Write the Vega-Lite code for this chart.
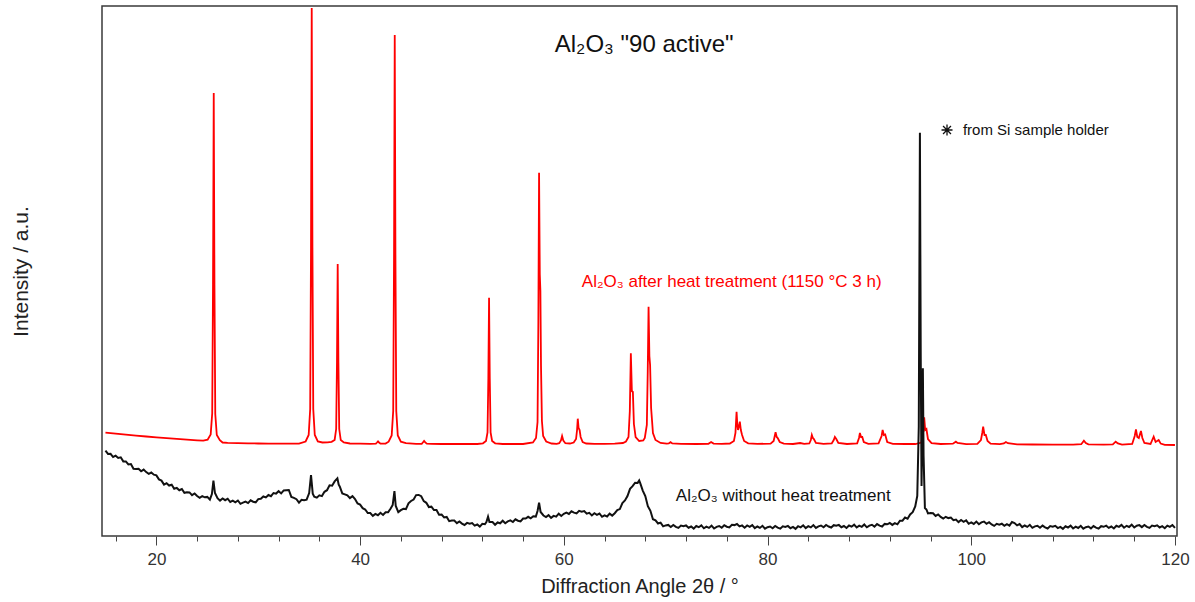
{
"$schema": "https://vega.github.io/schema/vega-lite/v6.json",
"width": 1075, "height": 530,
"autosize": {"type": "none"},
"padding": {"left": 102, "top": 6, "right": 18, "bottom": 66},
"config": {"font": "Liberation Sans", "view": {"stroke": "#3a3a3a", "strokeWidth": 1.5}},
"datasets": {
"red": [
{"x":15,"y":103.3},{"x":15.5,"y":102.8},{"x":16,"y":102.3},{"x":17,"y":101.3},{"x":18,"y":100.4},{"x":19,"y":99.5},{"x":20,"y":98.7},{"x":21,"y":97.9},{"x":22,"y":97.1},{"x":23,"y":96.4},{"x":24,"y":95.7},{"x":24.6,"y":95.3},{"x":25.03,"y":96.3},{"x":25.33,"y":101.6},{"x":25.48,"y":122.5},{"x":25.56,"y":251.7},{"x":25.63,"y":443},{"x":25.7,"y":251.5},{"x":25.78,"y":122},{"x":25.93,"y":101},{"x":26.23,"y":95.8},{"x":26.5,"y":93.5},{"x":27,"y":93.2},{"x":28,"y":92.9},{"x":29,"y":92.7},{"x":30,"y":92.5},{"x":31,"y":92.4},{"x":32,"y":92.3},{"x":33,"y":92.3},{"x":34,"y":92.3},{"x":34.65,"y":94.5},{"x":34.95,"y":101},{"x":35.1,"y":127},{"x":35.18,"y":288},{"x":35.25,"y":528},{"x":35.32,"y":288},{"x":35.4,"y":127},{"x":35.55,"y":101},{"x":35.85,"y":94.5},{"x":36.3,"y":93.5},{"x":36.8,"y":93.6},{"x":37.2,"y":94.2},{"x":37.5,"y":96.1},{"x":37.65,"y":107},{"x":37.73,"y":173.5},{"x":37.8,"y":272},{"x":37.87,"y":173.5},{"x":37.95,"y":107},{"x":38.1,"y":96},{"x":38.4,"y":93.5},{"x":39,"y":92.5},{"x":40,"y":92.3},{"x":41,"y":92.2},{"x":41.55,"y":92.3},{"x":41.66,"y":93.5},{"x":41.76,"y":94.7},{"x":41.86,"y":93.5},{"x":42,"y":92.3},{"x":42.5,"y":92.4},{"x":42.8,"y":94.3},{"x":43.1,"y":100.5},{"x":43.25,"y":125},{"x":43.33,"y":276},{"x":43.4,"y":501},{"x":43.47,"y":276},{"x":43.55,"y":125},{"x":43.7,"y":100.5},{"x":44,"y":94.3},{"x":44.5,"y":92.8},{"x":45.5,"y":92.2},{"x":46.05,"y":92.2},{"x":46.18,"y":93.8},{"x":46.28,"y":95},{"x":46.4,"y":93.6},{"x":46.55,"y":92.4},{"x":47,"y":92.1},{"x":48,"y":92},{"x":50,"y":92},{"x":51.5,"y":92},{"x":52.06,"y":92.7},{"x":52.36,"y":95},{"x":52.51,"y":103.7},{"x":52.59,"y":157.7},{"x":52.66,"y":238.3},{"x":52.73,"y":157.7},{"x":52.81,"y":103.7},{"x":52.96,"y":95},{"x":53.26,"y":92.7},{"x":54,"y":92},{"x":56,"y":92},{"x":56.97,"y":93.5},{"x":57.27,"y":98},{"x":57.42,"y":114},{"x":57.5,"y":214},{"x":57.57,"y":363.3},{"x":57.64,"y":262},{"x":57.7,"y":245},{"x":57.76,"y":170},{"x":57.85,"y":115},{"x":57.97,"y":100},{"x":58.27,"y":94.5},{"x":58.8,"y":92.5},{"x":59.3,"y":92.2},{"x":59.55,"y":92.8},{"x":59.72,"y":95.5},{"x":59.83,"y":100},{"x":59.95,"y":95.5},{"x":60.15,"y":92.8},{"x":60.6,"y":92.5},{"x":60.97,"y":93.5},{"x":61.2,"y":97},{"x":61.3,"y":106},{"x":61.37,"y":117.3},{"x":61.45,"y":108},{"x":61.55,"y":106},{"x":61.65,"y":99},{"x":61.85,"y":94},{"x":62.2,"y":92.5},{"x":63,"y":92.2},{"x":64,"y":92.2},{"x":65,"y":92.3},{"x":65.8,"y":93},{"x":66.1,"y":94.5},{"x":66.35,"y":99},{"x":66.48,"y":125},{"x":66.58,"y":182.7},{"x":66.68,"y":145},{"x":66.78,"y":144},{"x":66.88,"y":112},{"x":67.05,"y":99},{"x":67.4,"y":95},{"x":67.8,"y":95.5},{"x":67.95,"y":98},{"x":68.15,"y":111},{"x":68.24,"y":165},{"x":68.32,"y":229.3},{"x":68.4,"y":180},{"x":68.47,"y":171},{"x":68.57,"y":128},{"x":68.75,"y":103},{"x":69,"y":96},{"x":69.5,"y":93},{"x":70.1,"y":92.3},{"x":70.3,"y":92.5},{"x":70.48,"y":93.8},{"x":70.65,"y":92.6},{"x":71.5,"y":92.1},{"x":73,"y":92},{"x":74.2,"y":92.2},{"x":74.46,"y":94},{"x":74.7,"y":92.4},{"x":75.5,"y":92.1},{"x":76.3,"y":92.5},{"x":76.7,"y":95},{"x":76.85,"y":103},{"x":76.96,"y":124.3},{"x":77.03,"y":112},{"x":77.1,"y":106},{"x":77.2,"y":110},{"x":77.28,"y":114.3},{"x":77.38,"y":106},{"x":77.5,"y":101},{"x":77.7,"y":95},{"x":78.1,"y":92.6},{"x":79,"y":92.1},{"x":80.3,"y":92.4},{"x":80.6,"y":95},{"x":80.79,"y":103.7},{"x":80.9,"y":99},{"x":81,"y":98},{"x":81.2,"y":94},{"x":81.6,"y":92.3},{"x":82.5,"y":92},{"x":83.2,"y":93},{"x":83.6,"y":92.1},{"x":84.1,"y":92.5},{"x":84.25,"y":96},{"x":84.35,"y":101},{"x":84.45,"y":98},{"x":84.55,"y":97},{"x":84.75,"y":93},{"x":85.5,"y":92.1},{"x":86.3,"y":92.6},{"x":86.5,"y":96},{"x":86.61,"y":99},{"x":86.75,"y":97},{"x":86.95,"y":93},{"x":87.8,"y":92},{"x":88.8,"y":92.6},{"x":88.98,"y":98},{"x":89.07,"y":103},{"x":89.18,"y":99},{"x":89.3,"y":99},{"x":89.45,"y":94},{"x":89.9,"y":92.1},{"x":90.9,"y":92.7},{"x":91.2,"y":100},{"x":91.3,"y":106},{"x":91.42,"y":101},{"x":91.55,"y":101.5},{"x":91.75,"y":94},{"x":92.3,"y":92.2},{"x":93.5,"y":92},{"x":94.5,"y":92},{"x":95.1,"y":93.5},{"x":95.28,"y":104},{"x":95.38,"y":118.7},{"x":95.48,"y":106},{"x":95.6,"y":107},{"x":95.75,"y":97},{"x":96.1,"y":92.8},{"x":97,"y":92},{"x":98.2,"y":92.3},{"x":98.49,"y":94.3},{"x":98.65,"y":93},{"x":99.5,"y":91.8},{"x":100.6,"y":92.1},{"x":100.95,"y":96},{"x":101.08,"y":103},{"x":101.17,"y":109.3},{"x":101.3,"y":101},{"x":101.43,"y":101},{"x":101.6,"y":95},{"x":101.9,"y":92.3},{"x":102.8,"y":91.8},{"x":103.2,"y":92.6},{"x":103.4,"y":94},{"x":103.6,"y":92.8},{"x":104.5,"y":91.6},{"x":106,"y":91.5},{"x":108,"y":91.4},{"x":110,"y":91.4},{"x":110.8,"y":91.8},{"x":111.06,"y":95.3},{"x":111.25,"y":93},{"x":111.5,"y":91.6},{"x":113,"y":91.3},{"x":113.9,"y":91.6},{"x":114.18,"y":94.3},{"x":114.4,"y":92.6},{"x":114.8,"y":91.4},{"x":115.8,"y":92},{"x":116.05,"y":100},{"x":116.17,"y":106.7},{"x":116.3,"y":99},{"x":116.45,"y":98},{"x":116.66,"y":105},{"x":116.8,"y":98},{"x":117,"y":93},{"x":117.6,"y":92},{"x":117.91,"y":99.3},{"x":118.1,"y":94},{"x":118.4,"y":96},{"x":118.6,"y":92.4},{"x":119,"y":91.2},{"x":120,"y":91}
],
"black": [
{"x":15,"y":85.3},{"x":15.25,"y":82.1},{"x":15.5,"y":82.2},{"x":15.75,"y":79},{"x":16,"y":80.3},{"x":16.25,"y":78},{"x":16.5,"y":78.7},{"x":16.75,"y":74.6},{"x":17,"y":74.6},{"x":17.25,"y":71.5},{"x":17.5,"y":72},{"x":17.75,"y":67.2},{"x":18,"y":67.1},{"x":18.25,"y":67.2},{"x":18.5,"y":64.7},{"x":18.75,"y":66.4},{"x":19,"y":63.9},{"x":19.25,"y":62.1},{"x":19.5,"y":63.5},{"x":19.75,"y":61.3},{"x":20,"y":60.6},{"x":20.25,"y":56.6},{"x":20.5,"y":55.4},{"x":20.75,"y":51.4},{"x":21,"y":52.8},{"x":21.25,"y":50.5},{"x":21.5,"y":51.3},{"x":21.75,"y":47.3},{"x":22,"y":48.1},{"x":22.25,"y":45.8},{"x":22.5,"y":47},{"x":22.75,"y":43.2},{"x":23,"y":43.8},{"x":23.25,"y":43.6},{"x":23.5,"y":40.9},{"x":23.75,"y":42.5},{"x":24,"y":40},{"x":24.25,"y":38.2},{"x":24.5,"y":39.9},{"x":24.75,"y":38.7},{"x":25,"y":39.1},{"x":25.25,"y":36.4},{"x":25.45,"y":42},{"x":25.6,"y":55.3},{"x":25.75,"y":43},{"x":26,"y":37.9},{"x":26.25,"y":35.4},{"x":26.5,"y":37.5},{"x":26.75,"y":35.8},{"x":27,"y":37.3},{"x":27.25,"y":34},{"x":27.5,"y":35.4},{"x":27.75,"y":33.7},{"x":28,"y":35.5},{"x":28.25,"y":32.2},{"x":28.5,"y":33.4},{"x":28.75,"y":34.4},{"x":29,"y":32.9},{"x":29.25,"y":35.7},{"x":29.5,"y":34.3},{"x":29.75,"y":33.7},{"x":30,"y":36.9},{"x":30.25,"y":37.3},{"x":30.5,"y":39.5},{"x":30.75,"y":38.6},{"x":31,"y":41},{"x":31.25,"y":39.8},{"x":31.5,"y":43},{"x":31.75,"y":42.4},{"x":32,"y":44.8},{"x":32.25,"y":42.6},{"x":32.5,"y":45.6},{"x":32.75,"y":45.8},{"x":33,"y":46},{"x":33.25,"y":39.1},{"x":33.5,"y":38.1},{"x":33.75,"y":36.8},{"x":34,"y":33.4},{"x":34.25,"y":36.2},{"x":34.5,"y":35.7},{"x":34.75,"y":36.3},{"x":35,"y":42.9},{"x":35.18,"y":61},{"x":35.35,"y":42.3},{"x":35.5,"y":39.3},{"x":35.75,"y":38.3},{"x":36,"y":40.7},{"x":36.25,"y":39.9},{"x":36.5,"y":44.2},{"x":36.75,"y":45.8},{"x":37,"y":50.7},{"x":37.25,"y":50.3},{"x":37.5,"y":54.6},{"x":37.77,"y":57.7},{"x":37.9,"y":51.3},{"x":38,"y":49.5},{"x":38.25,"y":42.6},{"x":38.5,"y":41.6},{"x":38.75,"y":40.6},{"x":39,"y":37.9},{"x":39.25,"y":39.8},{"x":39.5,"y":37},{"x":39.75,"y":32.5},{"x":40,"y":31.4},{"x":40.25,"y":27.8},{"x":40.5,"y":26.5},{"x":40.75,"y":22.9},{"x":41,"y":23},{"x":41.25,"y":20.1},{"x":41.5,"y":22.1},{"x":41.75,"y":20.8},{"x":42,"y":23.2},{"x":42.25,"y":21.1},{"x":42.5,"y":23.8},{"x":42.75,"y":23.7},{"x":43,"y":27.5},{"x":43.2,"y":31},{"x":43.37,"y":45},{"x":43.5,"y":30},{"x":43.75,"y":23.9},{"x":44,"y":25.9},{"x":44.25,"y":27.2},{"x":44.5,"y":26.9},{"x":44.75,"y":32.7},{"x":45,"y":35},{"x":45.25,"y":36.5},{"x":45.5,"y":40.9},{"x":45.75,"y":41.1},{"x":46,"y":39.8},{"x":46.25,"y":34.9},{"x":46.5,"y":33.2},{"x":46.75,"y":28.9},{"x":47,"y":29.3},{"x":47.25,"y":26},{"x":47.5,"y":26},{"x":47.75,"y":21.3},{"x":48,"y":21.4},{"x":48.25,"y":18.6},{"x":48.5,"y":19.1},{"x":48.75,"y":14.8},{"x":49,"y":15.4},{"x":49.25,"y":15.4},{"x":49.5,"y":12.9},{"x":49.75,"y":14.6},{"x":50,"y":12.4},{"x":50.25,"y":11},{"x":50.5,"y":13.1},{"x":50.75,"y":12.2},{"x":51,"y":12.9},{"x":51.25,"y":10.4},{"x":51.5,"y":11.5},{"x":51.75,"y":9.4},{"x":52,"y":12.2},{"x":52.25,"y":11.8},{"x":52.4,"y":14},{"x":52.56,"y":19.3},{"x":52.7,"y":14},{"x":53,"y":13.9},{"x":53.25,"y":11.2},{"x":53.5,"y":13.5},{"x":53.75,"y":12.7},{"x":54,"y":15.3},{"x":54.25,"y":12.8},{"x":54.5,"y":14.6},{"x":54.75,"y":15.6},{"x":55,"y":14},{"x":55.25,"y":16.7},{"x":55.5,"y":15.3},{"x":55.75,"y":14.6},{"x":56,"y":17.5},{"x":56.25,"y":17.5},{"x":56.5,"y":19.2},{"x":56.75,"y":17.7},{"x":57,"y":19.7},{"x":57.25,"y":19.4},{"x":57.42,"y":25},{"x":57.57,"y":33.3},{"x":57.72,"y":24},{"x":58,"y":20.5},{"x":58.25,"y":19},{"x":58.5,"y":20.9},{"x":58.75,"y":18.1},{"x":59,"y":20.1},{"x":59.25,"y":19.4},{"x":59.5,"y":22.3},{"x":59.75,"y":20.1},{"x":60,"y":22.2},{"x":60.25,"y":23.4},{"x":60.5,"y":22},{"x":60.75,"y":24.7},{"x":61,"y":23.4},{"x":61.25,"y":22.6},{"x":61.5,"y":25.2},{"x":61.75,"y":24.4},{"x":62,"y":25},{"x":62.25,"y":22.3},{"x":62.5,"y":23.1},{"x":62.75,"y":20.6},{"x":63,"y":22.8},{"x":63.25,"y":21.1},{"x":63.5,"y":22.5},{"x":63.75,"y":19.2},{"x":64,"y":20.7},{"x":64.25,"y":19.5},{"x":64.5,"y":22.4},{"x":64.75,"y":20.4},{"x":65,"y":22.8},{"x":65.25,"y":25.8},{"x":65.5,"y":26.9},{"x":65.75,"y":33},{"x":66,"y":35.5},{"x":66.25,"y":40},{"x":66.5,"y":47.2},{"x":66.75,"y":49.8},{"x":67,"y":53.3},{"x":67.25,"y":53.1},{"x":67.4,"y":55.5},{"x":67.5,"y":52.9},{"x":67.75,"y":45.4},{"x":68,"y":40},{"x":68.25,"y":29.8},{"x":68.5,"y":25.2},{"x":68.75,"y":16.8},{"x":69,"y":15.6},{"x":69.25,"y":12.5},{"x":69.5,"y":13.4},{"x":69.75,"y":9.6},{"x":70,"y":10.6},{"x":70.25,"y":11.1},{"x":70.5,"y":9},{"x":70.75,"y":11.1},{"x":71,"y":9.2},{"x":71.25,"y":8.1},{"x":71.5,"y":10.4},{"x":71.75,"y":9.7},{"x":72,"y":10.6},{"x":72.25,"y":8.3},{"x":72.5,"y":9.5},{"x":72.75,"y":7.4},{"x":73,"y":10},{"x":73.25,"y":8.8},{"x":73.5,"y":10.6},{"x":73.75,"y":7.7},{"x":74,"y":9.4},{"x":74.25,"y":8.1},{"x":74.5,"y":10.3},{"x":74.75,"y":7.5},{"x":75,"y":9.1},{"x":75.25,"y":10},{"x":75.5,"y":8.3},{"x":75.75,"y":10.8},{"x":76,"y":9.3},{"x":76.25,"y":8.6},{"x":76.5,"y":11.3},{"x":76.75,"y":10.9},{"x":77,"y":12},{"x":77.25,"y":9.6},{"x":77.5,"y":10.6},{"x":77.75,"y":8.3},{"x":78,"y":10.6},{"x":78.25,"y":9.2},{"x":78.5,"y":10.9},{"x":78.75,"y":7.8},{"x":79,"y":9.5},{"x":79.25,"y":8.1},{"x":79.5,"y":10.2},{"x":79.75,"y":7.3},{"x":80,"y":8.8},{"x":80.25,"y":9.5},{"x":80.5,"y":7.7},{"x":80.75,"y":10},{"x":81,"y":8.3},{"x":81.25,"y":7.3},{"x":81.5,"y":9.7},{"x":81.75,"y":9.1},{"x":82,"y":10.1},{"x":82.25,"y":7.8},{"x":82.5,"y":9.1},{"x":82.75,"y":7.1},{"x":83,"y":9.8},{"x":83.25,"y":8.7},{"x":83.5,"y":10.7},{"x":83.75,"y":7.9},{"x":84,"y":9.8},{"x":84.25,"y":8.6},{"x":84.5,"y":10.9},{"x":84.75,"y":8.1},{"x":85,"y":9.7},{"x":85.25,"y":10.5},{"x":85.5,"y":8.7},{"x":85.75,"y":11.1},{"x":86,"y":9.5},{"x":86.25,"y":8.5},{"x":86.5,"y":10.8},{"x":86.75,"y":10.2},{"x":87,"y":11.1},{"x":87.25,"y":8.8},{"x":87.5,"y":10},{"x":87.75,"y":8},{"x":88,"y":10.5},{"x":88.25,"y":9.3},{"x":88.5,"y":11.3},{"x":88.75,"y":8.5},{"x":89,"y":10.4},{"x":89.25,"y":9.2},{"x":89.5,"y":11.5},{"x":89.75,"y":8.7},{"x":90,"y":10.4},{"x":90.25,"y":11.2},{"x":90.5,"y":9.4},{"x":90.75,"y":11.9},{"x":91,"y":10.3},{"x":91.25,"y":9.5},{"x":91.5,"y":12.1},{"x":91.75,"y":11.7},{"x":92,"y":13},{"x":92.25,"y":11.1},{"x":92.5,"y":12.9},{"x":92.75,"y":11.7},{"x":93,"y":15.3},{"x":93.25,"y":15.3},{"x":93.5,"y":18.5},{"x":93.75,"y":17.3},{"x":94,"y":21.6},{"x":94.25,"y":23.8},{"x":94.5,"y":29.5},{"x":94.7,"y":40},{"x":94.85,"y":110},{"x":94.96,"y":403.3},{"x":95.04,"y":180},{"x":95.12,"y":50},{"x":95.2,"y":110},{"x":95.25,"y":167.7},{"x":95.32,"y":80},{"x":95.45,"y":28},{"x":95.6,"y":26.5},{"x":95.75,"y":22.6},{"x":96,"y":23.1},{"x":96.25,"y":22.8},{"x":96.5,"y":20.1},{"x":96.75,"y":21.6},{"x":97,"y":19.1},{"x":97.25,"y":17.4},{"x":97.5,"y":19.2},{"x":97.75,"y":17.9},{"x":98,"y":18.4},{"x":98.25,"y":15.8},{"x":98.5,"y":16.5},{"x":98.75,"y":13.9},{"x":99,"y":16},{"x":99.25,"y":14.2},{"x":99.5,"y":15.6},{"x":99.75,"y":12.2},{"x":100,"y":13.6},{"x":100.25,"y":12.1},{"x":100.5,"y":14.4},{"x":100.75,"y":11.8},{"x":101,"y":13.6},{"x":101.25,"y":14.4},{"x":101.5,"y":12.2},{"x":101.75,"y":13.8},{"x":102,"y":11.5},{"x":102.25,"y":10.1},{"x":102.5,"y":12.2},{"x":102.75,"y":11.4},{"x":103,"y":12.3},{"x":103.25,"y":10.2},{"x":103.5,"y":11.8},{"x":103.75,"y":10.4},{"x":104,"y":14},{"x":104.25,"y":13},{"x":104.5,"y":10.6},{"x":104.75,"y":11.9},{"x":105,"y":8.8},{"x":105.25,"y":10.5},{"x":105.5,"y":9.1},{"x":105.75,"y":11.2},{"x":106,"y":8.2},{"x":106.25,"y":9.6},{"x":106.5,"y":10.2},{"x":106.75,"y":8.2},{"x":107,"y":10.4},{"x":107.25,"y":8.6},{"x":107.5,"y":7.5},{"x":107.75,"y":9.9},{"x":108,"y":9.2},{"x":108.25,"y":10.2},{"x":108.5,"y":7.9},{"x":108.75,"y":9.1},{"x":109,"y":7.1},{"x":109.25,"y":9.7},{"x":109.5,"y":8.5},{"x":109.75,"y":10.4},{"x":110,"y":7.5},{"x":110.25,"y":9.3},{"x":110.5,"y":8},{"x":110.75,"y":10.2},{"x":111,"y":7.3},{"x":111.25,"y":8.8},{"x":111.5,"y":9.5},{"x":111.75,"y":7.6},{"x":112,"y":9.9},{"x":112.25,"y":8.3},{"x":112.5,"y":7.3},{"x":112.75,"y":9.8},{"x":113,"y":9.2},{"x":113.25,"y":10.3},{"x":113.5,"y":8.1},{"x":113.75,"y":9.5},{"x":114,"y":7.5},{"x":114.25,"y":10.2},{"x":114.5,"y":9.1},{"x":114.75,"y":11.1},{"x":115,"y":8.3},{"x":115.25,"y":10.2},{"x":115.5,"y":9},{"x":115.75,"y":11.3},{"x":116,"y":8.5},{"x":116.25,"y":10.3},{"x":116.5,"y":10.9},{"x":116.75,"y":8.9},{"x":117,"y":11},{"x":117.25,"y":9.2},{"x":117.5,"y":8.1},{"x":117.75,"y":10.4},{"x":118,"y":9.8},{"x":118.25,"y":10.7},{"x":118.5,"y":8.5},{"x":118.75,"y":9.8},{"x":119,"y":7.8},{"x":119.25,"y":10.4},{"x":119.5,"y":9.1},{"x":119.75,"y":11},{"x":120,"y":8.1}
],
"notes": [
{"id":"title","label":"Al₂O₃ \"90 active\"","x":59.11,"y":484},
{"id":"after","label":"Al₂O₃ after heat treatment (1150 °C 3 h)","x":61.77,"y":249.3},
{"id":"without","label":"Al₂O₃ without heat treatment","x":71.0,"y":35},
{"id":"si","label":"from Si sample holder","x":99.18,"y":401},
{"id":"star","label":"","x":97.62,"y":406}
]
},
"layer": [
{"data": {"name": "red"}, "mark": {"type": "line", "color": "#ff0000", "strokeWidth": 1.8, "clip": true},
 "encoding": {
 "x": {"field": "x", "type": "quantitative",
  "scale": {"domain": [14.66, 120.2], "nice": false, "zero": false},
  "axis": {"title": "Diffraction Angle 2θ / °",
   "values": [16,18,20,22,24,26,28,30,32,34,36,38,40,42,44,46,48,50,52,54,56,58,60,62,64,66,68,70,72,74,76,78,80,82,84,86,88,90,92,94,96,98,100,102,104,106,108,110,112,114,116,118,120],
   "labelExpr": "datum.value % 20 === 0 ? datum.label : ''",
   "labelOverlap": false, "labelFlush": false,
   "tickSize": {"condition": {"test": "datum.value % 10 === 0", "value": 9}, "value": 5},
   "tickColor": "#444", "tickWidth": 1,
   "domain": false, "grid": false,
   "labelFont": "Liberation Sans", "labelFontSize": 17, "labelColor": "#333", "labelPadding": 6,
   "titleFont": "Liberation Sans", "titleFontSize": 20, "titleFontWeight": "normal", "titleColor": "#222", "titlePadding": 9}},
 "y": {"field": "y", "type": "quantitative",
  "scale": {"domain": [0, 530], "nice": false},
  "axis": {"title": "Intensity / a.u.", "labels": false, "ticks": false, "domain": false, "grid": false,
   "titleFont": "Liberation Sans", "titleFontSize": 21, "titleFontWeight": "normal", "titleColor": "#222", "titlePadding": 71}}
 }},
{"data": {"name": "black"}, "mark": {"type": "line", "color": "#111111", "strokeWidth": 2, "clip": true},
 "encoding": {"x": {"field": "x", "type": "quantitative"}, "y": {"field": "y", "type": "quantitative"}}},
{"data": {"name": "notes"}, "transform": [{"filter": "datum.id === 'title'"}],
 "mark": {"type": "text", "font": "Liberation Sans", "fontSize": 24, "align": "left", "baseline": "alphabetic", "color": "#111"},
 "encoding": {"x": {"field": "x", "type": "quantitative"}, "y": {"field": "y", "type": "quantitative"}, "text": {"field": "label"}}},
{"data": {"name": "notes"}, "transform": [{"filter": "datum.id === 'after'"}],
 "mark": {"type": "text", "font": "Liberation Sans", "fontSize": 17, "align": "left", "baseline": "alphabetic", "color": "#ff0000"},
 "encoding": {"x": {"field": "x", "type": "quantitative"}, "y": {"field": "y", "type": "quantitative"}, "text": {"field": "label"}}},
{"data": {"name": "notes"}, "transform": [{"filter": "datum.id === 'without'"}],
 "mark": {"type": "text", "font": "Liberation Sans", "fontSize": 17, "align": "left", "baseline": "alphabetic", "color": "#111"},
 "encoding": {"x": {"field": "x", "type": "quantitative"}, "y": {"field": "y", "type": "quantitative"}, "text": {"field": "label"}}},
{"data": {"name": "notes"}, "transform": [{"filter": "datum.id === 'si'"}],
 "mark": {"type": "text", "font": "Liberation Sans", "fontSize": 15, "align": "left", "baseline": "alphabetic", "color": "#111"},
 "encoding": {"x": {"field": "x", "type": "quantitative"}, "y": {"field": "y", "type": "quantitative"}, "text": {"field": "label"}}},
{"data": {"name": "notes"}, "transform": [{"filter": "datum.id === 'star'"}],
 "mark": {"type": "point", "shape": "M-1,0L1,0M0,-1L0,1M-0.72,-0.72L0.72,0.72M-0.72,0.72L0.72,-0.72", "size": 121, "filled": false, "stroke": "#111", "strokeWidth": 1.3, "opacity": 1},
 "encoding": {"x": {"field": "x", "type": "quantitative"}, "y": {"field": "y", "type": "quantitative"}}}
]
}
